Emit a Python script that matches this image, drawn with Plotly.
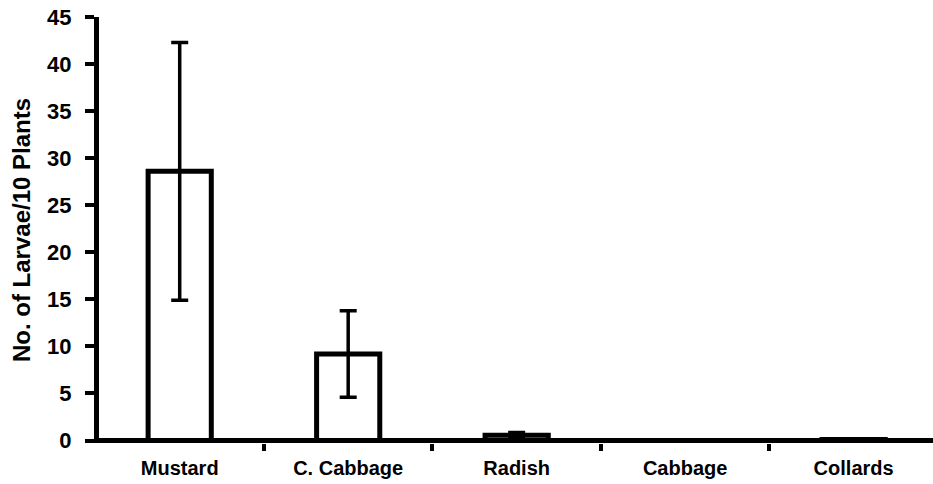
import plotly.graph_objects as go

# Larval counts per host plant (mean and standard error)
plants = ["Mustard", "C. Cabbage", "Radish", "Cabbage", "Collards"]
larvae_mean = [28.6, 9.2, 0.55, 0.0, 0.1]
larvae_err = [13.7, 4.6, 0.3, 0.0, 0.0]

y_ticks = [0, 5, 10, 15, 20, 25, 30, 35, 40, 45]

FONT = "Arial, 'Liberation Sans', sans-serif"
AXIS_W = 5

fig = go.Figure(
    go.Bar(
        x=plants,
        y=larvae_mean,
        width=0.375,
        marker=dict(color="white", line=dict(color="black", width=5)),
        error_y=dict(type="data", array=larvae_err, visible=True,
                     color="black", thickness=3.5, width=8.5),
    )
)

# horizontal axis drawn through y = 0 so the bar bases sit on it
fig.add_shape(type="line", xref="paper", yref="y",
              x0=-0.006, x1=1.01, y0=0, y1=0,
              line=dict(color="black", width=AXIS_W), layer="above")

fig.update_layout(
    width=933,
    height=484,
    margin=dict(l=99, r=0, t=17, b=41),
    plot_bgcolor="white",
    paper_bgcolor="white",
    showlegend=False,
    font=dict(family=FONT, color="black"),
)

fig.update_xaxes(
    range=[-0.479, 4.471],
    showline=False,
    ticks="outside", tickson="boundaries", ticklen=7, tickwidth=4,
    tickcolor="black",
    tickfont=dict(size=20, family=FONT, weight="bold"),
    ticklabelstandoff=11,
    showgrid=False, zeroline=False,
)

fig.update_yaxes(
    range=[-0.2657, 45],
    tickvals=y_ticks,
    showline=True, linecolor="black", linewidth=AXIS_W,
    ticks="outside", ticklen=9, tickwidth=4, tickcolor="black",
    tickfont=dict(size=22, family=FONT, weight="bold"),
    ticklabelstandoff=9,
    showgrid=False, zeroline=False,
    title=dict(text="No. of Larvae/10 Plants",
               font=dict(size=24, family=FONT, weight="bold"),
               standoff=11),
)

fig.write_html("out.html")
